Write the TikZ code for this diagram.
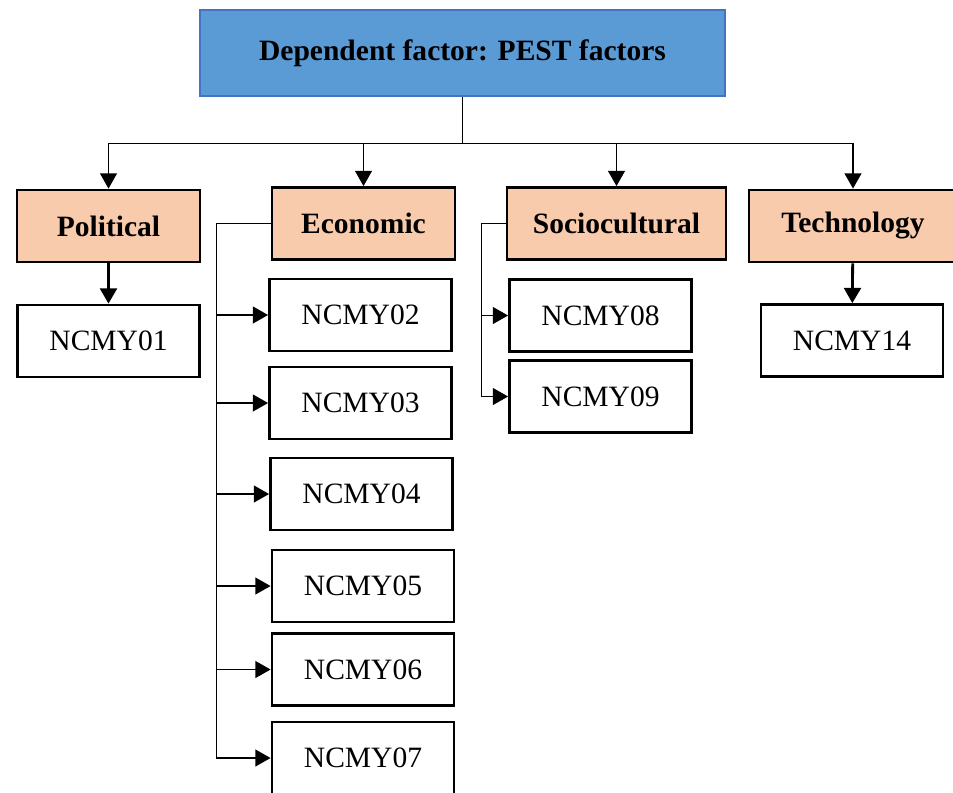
\documentclass[tikz,border=0pt]{standalone}
\usepackage{fontspec}
\setmainfont{Liberation Serif}
\usetikzlibrary{arrows.meta}

\definecolor{headblue}{HTML}{5B9BD5}
\definecolor{headedge}{HTML}{4472C4}
\definecolor{factorfill}{HTML}{F8CBAD}
\def\pxu{0.025cm}

\tikzset{
  topbox/.style={draw=headedge, fill=headblue, line width=2pt, inner sep=0pt,
    minimum width=525*\pxu, minimum height=86*\pxu, font=\fontsize{21}{24}\selectfont\bfseries},
  factor/.style={draw, fill=factorfill, line width=2pt, inner sep=0pt,
    minimum height=72*\pxu, font=\fontsize{21}{24}\selectfont\bfseries},
  item/.style={draw, fill=white, line width=2pt, inner sep=0pt,
    minimum width=182*\pxu, minimum height=72*\pxu, font=\fontsize{21}{24}\selectfont},
  arr/.style={line width=1.1pt, -{Triangle[length=0.38cm,width=0.42cm]}},
}

\begin{document}
\begin{tikzpicture}[x=0.025cm, y=-0.025cm]
  \useasboundingbox (0,0) rectangle (953,792);
  \node[topbox] (top) at (462.5,53) {Dependent factor: PEST factors};

  \node[factor, minimum width=183*\pxu] (pol) at (108.5,226) {Political};
  \node[factor, minimum width=183*\pxu] (eco) at (363.5,223.5) {Economic};
  \node[factor, minimum width=219*\pxu] (soc) at (616.5,223.5) {Sociocultural};
  \node[factor, minimum width=208*\pxu] (tech) at (853,226) {Technology};

  \node[item] (n01) at (108.5,341) {NCMY01};
  \node[item] (n02) at (360.5,315) {NCMY02};
  \node[item] (n03) at (360.5,403) {NCMY03};
  \node[item] (n04) at (361.5,494) {NCMY04};
  \node[item] (n05) at (363,586) {NCMY05};
  \node[item] (n06) at (363,669.5) {NCMY06};
  \node[item] (n07) at (363,758) {NCMY07};
  \node[item] (n08) at (600.5,315.5) {NCMY08};
  \node[item] (n09) at (600.5,396.5) {NCMY09};
  \node[item] (n14) at (852,340.5) {NCMY14};

  \draw[arr] (top.south) -- ++(0,46) -| (pol.north);
  \draw[arr] (top.south) -- ++(0,46) -| (eco.north);
  \draw[arr] (top.south) -- ++(0,46) -| (soc.north);
  \draw[arr] (top.south) -- ++(0,46) -| (tech.north);

  \draw[arr, line width=2pt] (pol) -- (n01);
  \draw[arr, line width=2pt] (tech) -- (n14);

  \foreach \n in {n02,n03,n04,n05,n06,n07}
    \draw[arr] (eco.west) -- ++(-54,0) |- (\n.west);
  \foreach \n in {n08,n09}
    \draw[arr] (soc.west) -- ++(-24,0) |- (\n.west);
\end{tikzpicture}
\end{document}
